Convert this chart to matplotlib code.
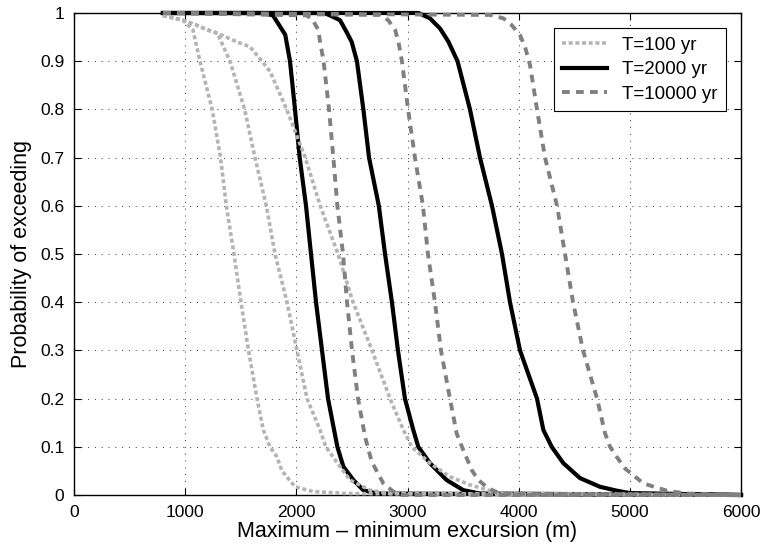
import matplotlib
matplotlib.use("Agg")
import matplotlib.pyplot as plt

plt.rcParams['font.family'] = ['Liberation Sans', 'DejaVu Sans']

# T=100 yr curves (dotted)
x_t100_a = [800, 980, 1070, 1133, 1243, 1318, 1370, 1439, 1502, 1570, 1646, 1703, 1763, 1823, 1871, 1988, 2153, 2453, 6000]
p_t100_a = [0.995, 0.985, 0.965, 0.9, 0.8, 0.7, 0.6, 0.5, 0.4, 0.3, 0.2, 0.135, 0.1, 0.08, 0.05, 0.017, 0.007, 0.003, 0.0]
x_t100_b = [800, 980, 1100, 1200, 1290, 1403, 1535, 1628, 1730, 1808, 1916, 2006, 2096, 2213, 2265, 2393, 2483, 2663, 2843, 6000]
p_t100_b = [0.995, 0.985, 0.975, 0.965, 0.958, 0.9, 0.8, 0.7, 0.6, 0.5, 0.4, 0.3, 0.2, 0.135, 0.1, 0.059, 0.031, 0.01, 0.003, 0.0]
x_t100_c = [800, 980, 1100, 1200, 1290, 1466, 1583, 1690, 1763, 1913, 2080, 2215, 2375, 2510, 2681, 2843, 2963, 3038, 3202, 3382, 3562, 3830, 6000]
p_t100_c = [0.995, 0.985, 0.975, 0.965, 0.958, 0.94, 0.93, 0.9, 0.879, 0.8, 0.7, 0.6, 0.5, 0.4, 0.3, 0.2, 0.135, 0.1, 0.066, 0.038, 0.021, 0.003, 0.0]

# T=2000 yr curves (solid)
x_t2000_a = [800, 1700, 1790, 1900, 1943, 1988, 2030, 2087, 2132, 2177, 2231, 2285, 2369, 2423, 2513, 2603, 2723, 6000]
p_t2000_a = [1, 1, 0.995, 0.955, 0.9, 0.8, 0.7, 0.6, 0.5, 0.4, 0.3, 0.2, 0.1, 0.059, 0.031, 0.01, 0.003, 0]
x_t2000_b = [800, 2250, 2303, 2393, 2453, 2498, 2545, 2603, 2654, 2742, 2798, 2860, 2914, 2977, 3052, 3097, 3202, 3352, 3502, 3652, 6000]
p_t2000_b = [1, 1, 0.995, 0.985, 0.96, 0.94, 0.9, 0.8, 0.7, 0.6, 0.5, 0.4, 0.3, 0.2, 0.135, 0.1, 0.066, 0.031, 0.01, 0.003, 0]
x_t2000_c = [800, 3100, 3202, 3292, 3367, 3450, 3562, 3652, 3760, 3850, 3922, 4012, 4165, 4222, 4297, 4402, 4552, 4732, 4882, 5000, 6000]
p_t2000_c = [1, 1, 0.989, 0.968, 0.941, 0.9, 0.8, 0.7, 0.6, 0.5, 0.4, 0.3, 0.2, 0.135, 0.1, 0.066, 0.035, 0.017, 0.009, 0.004, 0]

# T=10000 yr curves (dashed)
x_t10000_a = [800, 2090, 2138, 2198, 2213, 2245, 2294, 2333, 2369, 2420, 2456, 2501, 2555, 2618, 2678, 2783, 2873, 2950, 6000]
p_t10000_a = [1, 0.995, 0.989, 0.965, 0.941, 0.9, 0.8, 0.7, 0.6, 0.5, 0.4, 0.3, 0.2, 0.121, 0.069, 0.024, 0.007, 0, 0]
x_t10000_b = [800, 2752, 2827, 2888, 2918, 2950, 3005, 3067, 3139, 3184, 3247, 3301, 3382, 3442, 3490, 3577, 3637, 3727, 3832, 6000]
p_t10000_b = [1, 0.996, 0.985, 0.965, 0.941, 0.9, 0.8, 0.7, 0.6, 0.5, 0.4, 0.3, 0.2, 0.128, 0.1, 0.052, 0.031, 0.014, 0.003, 0]
x_t10000_c = [800, 3742, 3862, 3937, 4012, 4057, 4102, 4165, 4237, 4345, 4417, 4489, 4579, 4705, 4777, 4822, 4882, 4957, 5122, 5332, 5512, 6000]
p_t10000_c = [1, 0.996, 0.989, 0.975, 0.954, 0.93, 0.892, 0.8, 0.7, 0.6, 0.5, 0.4, 0.3, 0.2, 0.128, 0.1, 0.079, 0.055, 0.024, 0.009, 0.003, 0]

# short blue segment along p=1
x_blue = [1000, 2550]
p_blue = [1, 1]

x_ticks = [0, 1000, 2000, 3000, 4000, 5000, 6000]
y_ticks = [0, 0.1, 0.2, 0.3, 0.4, 0.5, 0.6, 0.7, 0.8, 0.9, 1]
y_ticklabels = ['0', '0.1', '0.2', '0.3', '0.4', '0.5', '0.6', '0.7', '0.8', '0.9', '1']

fig = plt.figure(figsize=(7.64, 5.54), dpi=100)
ax = fig.add_axes([74/764, 59/554, 667/764, 482/554])

dotted = dict(color='#b4b4b4', lw=2.6, linestyle=(0, (1.1, 0.75)), clip_on=False, zorder=3)
solid = dict(color='black', lw=3.0, linestyle='-', clip_on=False, zorder=3)
dashed = dict(color='#808080', lw=2.8, linestyle=(0, (2.0, 1.6)), clip_on=False, zorder=3)

ax.plot(x_blue, p_blue, color='#1f5fe0', lw=2.6, clip_on=False, zorder=2.9)

ax.plot(x_t2000_a, p_t2000_a, label='T=2000 yr', **solid)
ax.plot(x_t2000_b, p_t2000_b, **solid)
ax.plot(x_t2000_c, p_t2000_c, **solid)
ax.plot(x_t100_a, p_t100_a, label='T=100 yr', **dotted)
ax.plot(x_t100_b, p_t100_b, **dotted)
ax.plot(x_t100_c, p_t100_c, **dotted)
ax.plot(x_t10000_a, p_t10000_a, label='T=10000 yr', **dashed)
ax.plot(x_t10000_b, p_t10000_b, **dashed)
ax.plot(x_t10000_c, p_t10000_c, **dashed)

ax.set_xlim(0, 6000)
ax.set_ylim(0, 1)
ax.set_xticks(x_ticks)
ax.set_yticks(y_ticks)
ax.set_yticklabels(y_ticklabels)
ax.tick_params(direction='in', top=True, right=True, length=5, width=0.8,
               labelsize=12.5, pad=7)
ax.grid(True, color='#333333', lw=0.7, linestyle=(0, (1, 6)))
for s in ax.spines.values():
    s.set_linewidth(1.0)

ax.set_xlabel('Maximum \u2013 minimum excursion (m)', fontsize=15.5, labelpad=1)
ax.set_ylabel('Probability of exceeding', fontsize=15.5, labelpad=6)

h, l = ax.get_legend_handles_labels()
order = [1, 0, 2]
leg = ax.legend([h[i] for i in order], [l[i] for i in order], loc='upper right',
                bbox_to_anchor=(0.9775, 0.969), fontsize=13.5, fancybox=False,
                edgecolor='black', framealpha=1, handlelength=2.4,
                borderpad=0.45, labelspacing=0.4, handletextpad=0.8,
                borderaxespad=0)
leg.get_frame().set_linewidth(0.8)

fig.savefig('out.png', dpi=100)
